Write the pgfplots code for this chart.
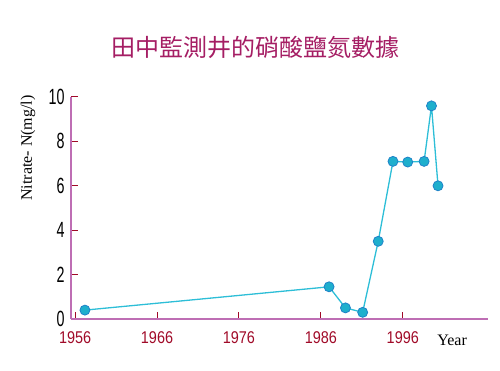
\documentclass[border=0pt]{standalone}
\usepackage{pgfplots}
\pgfplotsset{compat=1.18}
\usepackage{fontspec}
\setmainfont{Liberation Serif}
\newfontfamily\cjk{Noto Sans CJK TC}
\newfontfamily\ynum[FakeStretch=0.65]{Liberation Sans}
\newfontfamily\xnum[FakeStretch=0.85]{Liberation Sans}
\definecolor{titlec}{RGB}{165,30,100}
\definecolor{xlab}{RGB}{160,10,40}
\definecolor{axc}{RGB}{190,110,180}
\definecolor{linec}{RGB}{45,190,215}
\definecolor{markf}{RGB}{30,175,205}
\definecolor{markd}{RGB}{30,130,200}
\begin{document}
\begin{tikzpicture}
\path[use as bounding box] (0,0) rectangle (500pt,371pt);
\node[font=\cjk\fontsize{24}{24}\selectfont, text=titlec] at (255pt,324pt) {田中監測井的硝酸鹽氮數據};
\begin{axis}[
  at={(71pt,52pt)}, anchor=south west,
  scale only axis, width=417pt, height=222pt,
  xmin=1955.5, xmax=2006.4, ymin=0, ymax=10,
  axis x line=bottom, axis y line=left,
  axis line style={-, draw=axc, line width=1.6pt},
  xtick={1956,1966,1976,1986,1996},
  ytick={0,2,4,6,8,10},
  tick align=inside, major tick length=7pt,
  tick style={draw=xlab, line width=1pt},
  /pgf/number format/assume math mode=true,
  /pgf/number format/1000 sep={},
  xticklabel style={font=\xnum\fontsize{17}{17}\selectfont, text=xlab, yshift=-9pt},
  yticklabel style={font=\ynum\fontsize{22}{22}\selectfont, text=black, xshift=-3pt},
  ylabel={Nitrate- N(mg/l)},
  ylabel style={at={(axis description cs:-0.103,0.77)}, anchor=center, font=\fontsize{16}{16}\selectfont},
  xlabel={Year},
  xlabel style={at={(axis description cs:0.914,0)}, yshift=-21pt, anchor=center, font=\fontsize{16}{16}\selectfont},
  clip=false,
]
\addplot[color=linec, line width=1.3pt, mark=*, mark size=5pt,
  mark options={fill=markf, draw=markd, line width=0.8pt}] coordinates {
  (1957.2,0.4) (1987.0,1.45) (1989.0,0.5) (1991.1,0.3) (1993.0,3.5)
  (1994.8,7.1) (1996.6,7.07) (1998.6,7.1) (1999.5,9.6) (2000.3,6.0)
};
\end{axis}
\end{tikzpicture}
\end{document}
